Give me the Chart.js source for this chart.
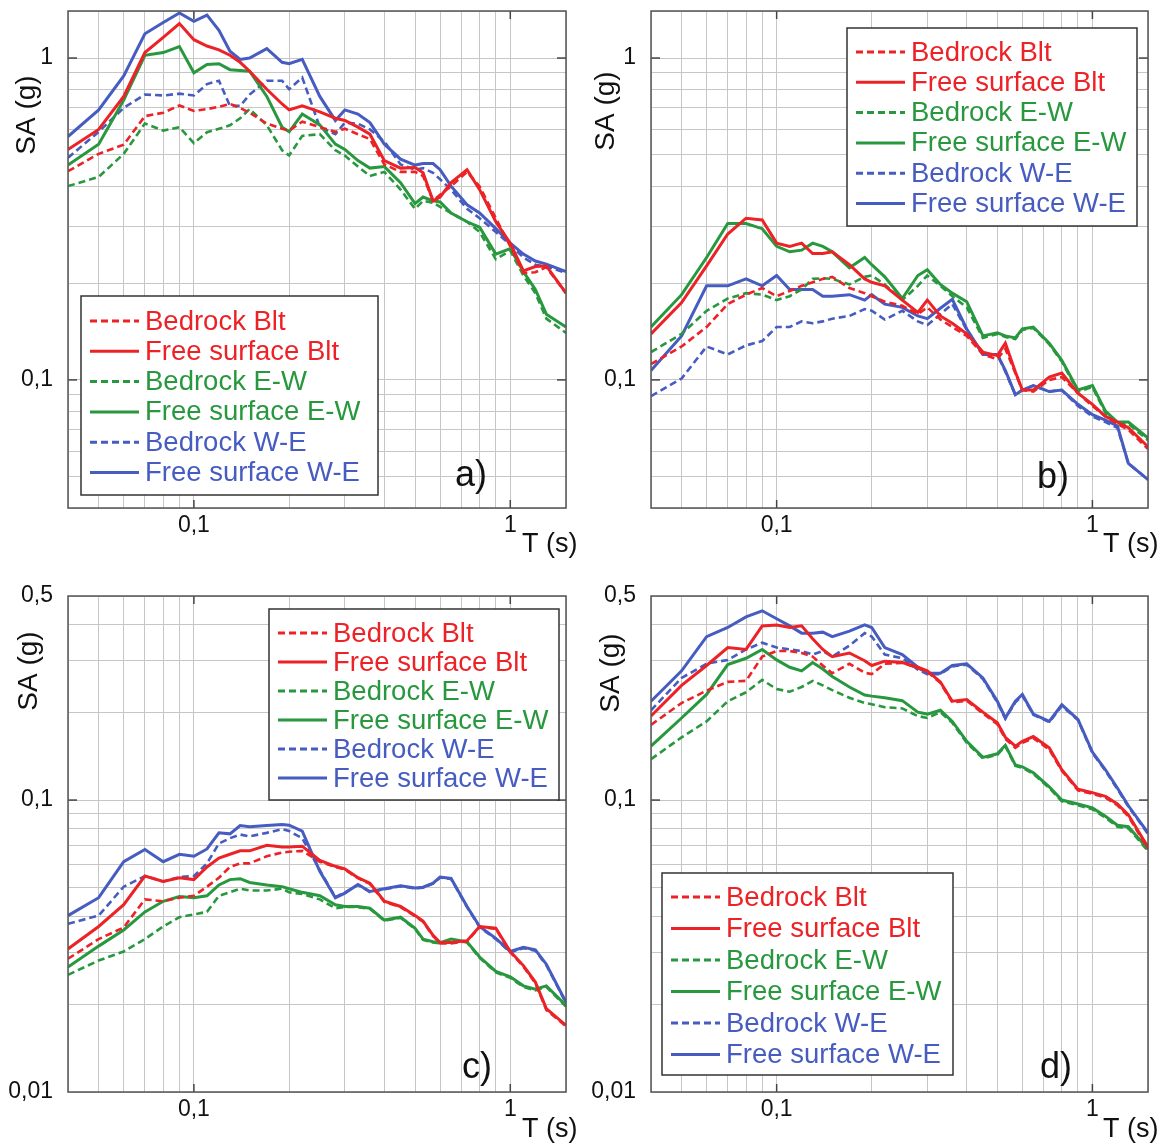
<!DOCTYPE html>
<html>
<head>
<meta charset="utf-8">
<script src="https://cdn.jsdelivr.net/npm/chart.js@4.4.0/dist/chart.umd.min.js"></script>
<style>
html, body { margin: 0; padding: 0; background: #fff; }
#page { position: relative; width: 1168px; height: 1144px; }
.panel { position: absolute; width: 584px; height: 572px; }
</style>
</head>
<body>
<div id="page">
  <div class="panel" style="left:0;top:0"><canvas id="chartA" width="584" height="572"></canvas></div>
  <div class="panel" style="left:584px;top:0"><canvas id="chartB" width="584" height="572"></canvas></div>
  <div class="panel" style="left:0;top:572px"><canvas id="chartC" width="584" height="572"></canvas></div>
  <div class="panel" style="left:584px;top:572px"><canvas id="chartD" width="584" height="572"></canvas></div>
</div>
<script>
// periods T (s), shared by all curves
const periods = [0.04, 0.05, 0.06, 0.07, 0.08, 0.09, 0.1, 0.11, 0.12, 0.13, 0.14, 0.15, 0.17, 0.19, 0.2, 0.22, 0.25, 0.28, 0.3, 0.33, 0.36, 0.4, 0.45, 0.5, 0.53, 0.57, 0.6, 0.65, 0.73, 0.8, 0.9, 1, 1.1, 1.2, 1.3, 1.5];

const seriesLabels = ['Bedrock Blt', 'Free surface Blt', 'Bedrock E-W', 'Free surface E-W', 'Bedrock W-E', 'Free surface W-E'];
const panelLetters = ['a)', 'b)', 'c)', 'd)'];
const xTickLabels = [0.1, 1];
const yTickLabelsAB = [0.1, 1];
const yTickLabelsCD = [0.01, 0.1, 0.5];

// panel a
const aBedrockBlt = [0.445, 0.504, 0.538, 0.66, 0.676, 0.712, 0.685, 0.694, 0.706, 0.72, 0.70, 0.676, 0.626, 0.603, 0.595, 0.634, 0.61, 0.59, 0.603, 0.58, 0.56, 0.467, 0.443, 0.443, 0.43, 0.36, 0.376, 0.40, 0.443, 0.399, 0.318, 0.26, 0.215, 0.216, 0.224, 0.186];
const aFreeBlt = [0.52, 0.60, 0.76, 1.04, 1.16, 1.28, 1.14, 1.09, 1.06, 1.02, 0.97, 0.91, 0.80, 0.72, 0.69, 0.71, 0.68, 0.65, 0.64, 0.61, 0.58, 0.48, 0.455, 0.457, 0.44, 0.36, 0.37, 0.41, 0.45, 0.39, 0.31, 0.266, 0.218, 0.225, 0.226, 0.186];
const aBedrockEW = [0.40, 0.427, 0.504, 0.626, 0.595, 0.61, 0.544, 0.588, 0.603, 0.618, 0.65, 0.694, 0.618, 0.517, 0.498, 0.573, 0.58, 0.517, 0.498, 0.46, 0.43, 0.443, 0.39, 0.34, 0.36, 0.355, 0.345, 0.33, 0.31, 0.288, 0.237, 0.252, 0.211, 0.186, 0.155, 0.14];
const aFreeEW = [0.465, 0.54, 0.74, 1.02, 1.04, 1.085, 0.90, 0.955, 0.96, 0.92, 0.915, 0.91, 0.76, 0.61, 0.59, 0.67, 0.62, 0.54, 0.52, 0.48, 0.455, 0.46, 0.41, 0.353, 0.37, 0.36, 0.357, 0.33, 0.31, 0.298, 0.246, 0.256, 0.217, 0.191, 0.16, 0.146];
const aBedrockWE = [0.49, 0.59, 0.70, 0.77, 0.765, 0.775, 0.765, 0.83, 0.85, 0.71, 0.71, 0.77, 0.85, 0.85, 0.80, 0.87, 0.61, 0.58, 0.63, 0.625, 0.60, 0.55, 0.467, 0.45, 0.455, 0.44, 0.42, 0.39, 0.34, 0.318, 0.288, 0.263, 0.24, 0.228, 0.225, 0.215];
const aFreeWE = [0.57, 0.69, 0.88, 1.19, 1.29, 1.38, 1.30, 1.36, 1.22, 1.05, 0.99, 1.00, 1.07, 0.97, 0.96, 0.99, 0.76, 0.64, 0.69, 0.67, 0.63, 0.54, 0.485, 0.465, 0.47, 0.47, 0.45, 0.40, 0.35, 0.33, 0.295, 0.266, 0.246, 0.234, 0.229, 0.217];

// panel b
const bBedrockBlt = [0.112, 0.127, 0.146, 0.172, 0.184, 0.193, 0.182, 0.189, 0.196, 0.201, 0.206, 0.209, 0.193, 0.186, 0.182, 0.175, 0.17, 0.16, 0.168, 0.154, 0.146, 0.137, 0.12, 0.116, 0.125, 0.105, 0.093, 0.092, 0.1, 0.102, 0.091, 0.083, 0.077, 0.073, 0.07, 0.061];
const bFreeBlt = [0.139, 0.174, 0.226, 0.284, 0.318, 0.314, 0.266, 0.26, 0.266, 0.247, 0.247, 0.25, 0.228, 0.206, 0.201, 0.196, 0.177, 0.162, 0.177, 0.158, 0.15, 0.139, 0.122, 0.119, 0.13, 0.106, 0.093, 0.093, 0.102, 0.105, 0.091, 0.084, 0.077, 0.074, 0.071, 0.062];
const bBedrockEW = [0.122, 0.139, 0.164, 0.179, 0.186, 0.184, 0.177, 0.182, 0.191, 0.206, 0.207, 0.206, 0.198, 0.209, 0.211, 0.198, 0.177, 0.196, 0.211, 0.196, 0.182, 0.168, 0.135, 0.139, 0.136, 0.134, 0.143, 0.145, 0.129, 0.114, 0.092, 0.095, 0.079, 0.073, 0.073, 0.065];
const bFreeEW = [0.146, 0.184, 0.24, 0.306, 0.306, 0.295, 0.26, 0.25, 0.253, 0.266, 0.26, 0.25, 0.223, 0.24, 0.228, 0.209, 0.179, 0.211, 0.22, 0.198, 0.186, 0.175, 0.137, 0.14, 0.137, 0.135, 0.144, 0.146, 0.13, 0.115, 0.093, 0.096, 0.08, 0.074, 0.074, 0.066];
const bBedrockWE = [0.089, 0.101, 0.127, 0.12, 0.128, 0.132, 0.146, 0.146, 0.152, 0.15, 0.152, 0.155, 0.158, 0.166, 0.164, 0.154, 0.164, 0.152, 0.148, 0.16, 0.172, 0.143, 0.12, 0.12, 0.106, 0.09, 0.093, 0.096, 0.092, 0.093, 0.083, 0.077, 0.074, 0.071, 0.055, 0.049];
const bFreeWE = [0.107, 0.137, 0.196, 0.196, 0.206, 0.196, 0.211, 0.191, 0.191, 0.191, 0.182, 0.182, 0.184, 0.177, 0.184, 0.172, 0.168, 0.158, 0.155, 0.167, 0.178, 0.144, 0.12, 0.12, 0.107, 0.09, 0.093, 0.096, 0.092, 0.093, 0.084, 0.078, 0.075, 0.072, 0.055, 0.049];

// panel c
const cBedrockBlt = [0.0286, 0.0334, 0.0366, 0.0457, 0.045, 0.0463, 0.047, 0.0505, 0.0542, 0.059, 0.0607, 0.0607, 0.0642, 0.0661, 0.0665, 0.067, 0.0615, 0.059, 0.0578, 0.054, 0.0516, 0.0448, 0.043, 0.04, 0.0383, 0.0342, 0.0323, 0.0323, 0.0328, 0.0367, 0.0362, 0.0301, 0.0269, 0.0236, 0.0191, 0.0168];
const cFreeBlt = [0.0309, 0.0369, 0.0438, 0.0549, 0.0526, 0.0542, 0.0534, 0.059, 0.0633, 0.0652, 0.067, 0.067, 0.07, 0.069, 0.069, 0.0695, 0.0621, 0.0593, 0.0581, 0.0542, 0.0519, 0.045, 0.0432, 0.0402, 0.0385, 0.0344, 0.0325, 0.0325, 0.033, 0.0369, 0.0364, 0.0303, 0.0271, 0.0238, 0.0193, 0.0169];
const cBedrockEW = [0.0252, 0.0282, 0.0303, 0.0334, 0.0369, 0.0397, 0.0406, 0.0414, 0.047, 0.0483, 0.0497, 0.049, 0.049, 0.0497, 0.0483, 0.0477, 0.0457, 0.0426, 0.043, 0.043, 0.0424, 0.0386, 0.0395, 0.0362, 0.0332, 0.0325, 0.0323, 0.0332, 0.0325, 0.0288, 0.0257, 0.0246, 0.0229, 0.0223, 0.0229, 0.0196];
const cFreeEW = [0.0268, 0.0316, 0.0359, 0.0414, 0.045, 0.0467, 0.0463, 0.047, 0.0512, 0.0534, 0.0538, 0.0522, 0.0512, 0.0505, 0.0497, 0.0483, 0.047, 0.0438, 0.0432, 0.0432, 0.0426, 0.0388, 0.0397, 0.0364, 0.0334, 0.0327, 0.0325, 0.0334, 0.0327, 0.029, 0.0259, 0.0248, 0.0231, 0.0225, 0.0231, 0.0198];
const cBedrockWE = [0.0377, 0.0402, 0.0505, 0.0549, 0.0526, 0.0545, 0.0549, 0.0607, 0.071, 0.074, 0.0762, 0.0751, 0.0772, 0.0795, 0.0783, 0.074, 0.0575, 0.0465, 0.0482, 0.0512, 0.0484, 0.0495, 0.0507, 0.0498, 0.0501, 0.0517, 0.0543, 0.0537, 0.043, 0.0367, 0.0334, 0.0301, 0.0311, 0.0305, 0.0272, 0.0202];
const cFreeWE = [0.0402, 0.0463, 0.0615, 0.0677, 0.0615, 0.0652, 0.0642, 0.068, 0.0772, 0.0766, 0.0818, 0.081, 0.0818, 0.0824, 0.082, 0.0783, 0.057, 0.0463, 0.048, 0.0514, 0.0486, 0.0497, 0.0509, 0.05, 0.0503, 0.0519, 0.0545, 0.0539, 0.0432, 0.0369, 0.0336, 0.0303, 0.0313, 0.0307, 0.0274, 0.0203];

// panel d
const dBedrockBlt = [0.181, 0.215, 0.237, 0.254, 0.256, 0.31, 0.324, 0.324, 0.319, 0.31, 0.289, 0.272, 0.293, 0.273, 0.27, 0.293, 0.295, 0.283, 0.275, 0.252, 0.216, 0.219, 0.198, 0.182, 0.162, 0.151, 0.157, 0.163, 0.149, 0.126, 0.108, 0.105, 0.102, 0.096, 0.088, 0.068];
const dFreeBlt = [0.194, 0.247, 0.289, 0.333, 0.328, 0.395, 0.398, 0.39, 0.395, 0.357, 0.328, 0.31, 0.319, 0.3, 0.289, 0.299, 0.296, 0.285, 0.277, 0.254, 0.218, 0.221, 0.2, 0.184, 0.164, 0.153, 0.159, 0.165, 0.151, 0.127, 0.109, 0.106, 0.103, 0.097, 0.089, 0.069];
const dBedrockEW = [0.138, 0.164, 0.186, 0.218, 0.234, 0.258, 0.24, 0.235, 0.244, 0.256, 0.247, 0.238, 0.224, 0.215, 0.213, 0.208, 0.206, 0.194, 0.191, 0.2, 0.184, 0.157, 0.139, 0.143, 0.153, 0.131, 0.129, 0.123, 0.11, 0.099, 0.096, 0.093, 0.087, 0.081, 0.08, 0.067];
const dFreeEW = [0.153, 0.191, 0.23, 0.291, 0.306, 0.328, 0.302, 0.285, 0.277, 0.296, 0.281, 0.265, 0.244, 0.229, 0.227, 0.224, 0.219, 0.2, 0.197, 0.203, 0.186, 0.159, 0.14, 0.144, 0.154, 0.132, 0.13, 0.124, 0.111, 0.1, 0.097, 0.094, 0.088, 0.082, 0.081, 0.068];
const dBedrockWE = [0.203, 0.262, 0.293, 0.302, 0.328, 0.346, 0.333, 0.328, 0.324, 0.315, 0.324, 0.31, 0.338, 0.373, 0.363, 0.315, 0.306, 0.28, 0.27, 0.27, 0.287, 0.291, 0.26, 0.216, 0.19, 0.216, 0.228, 0.196, 0.185, 0.21, 0.188, 0.145, 0.126, 0.109, 0.095, 0.0765];
const dFreeWE = [0.218, 0.277, 0.363, 0.39, 0.424, 0.445, 0.418, 0.395, 0.373, 0.373, 0.376, 0.363, 0.379, 0.398, 0.39, 0.333, 0.315, 0.285, 0.272, 0.272, 0.289, 0.293, 0.262, 0.218, 0.191, 0.218, 0.23, 0.197, 0.186, 0.212, 0.189, 0.146, 0.127, 0.11, 0.0956, 0.0772];

// styles
const FONT = '"Liberation Sans", Arial, sans-serif';
const RED = 'rgb(236,34,38)', GREEN = 'rgb(40,152,62)', BLUE = 'rgb(70,92,192)';
const lineColors = [RED, RED, GREEN, GREEN, BLUE, BLUE];
const isDashed = [true, false, true, false, true, false];

function logGrid(min, max) {
  const out = [min];
  for (let e = -3; e <= 1; e++) {
    for (let m = 1; m <= 9; m++) {
      const v = Number((m * Math.pow(10, e)).toPrecision(3));
      if (v > min && v < max) out.push(v);
    }
  }
  out.push(max);
  return out;
}
const commaLabel = v => String(v).replace('.', ',');

// axes must not reserve label overflow space: the plot box is placed by hand
function noPad(s) {
  s.paddingTop = 0; s.paddingBottom = 0; s.paddingLeft = 0; s.paddingRight = 0;
}

const decor = {
  id: 'decor',
  afterDraw(chart, args, o) {
    const ctx = chart.ctx, a = chart.chartArea;
    const xs = chart.scales.x, ys = chart.scales.y;
    ctx.save();
    const seg = (x1, y1, x2, y2) => { ctx.beginPath(); ctx.moveTo(x1, y1); ctx.lineTo(x2, y2); ctx.stroke(); };
    // inward major ticks
    ctx.strokeStyle = '#444';
    ctx.lineWidth = 1.5;
    xTickLabels.forEach(v => {
      const px = xs.getPixelForValue(v);
      seg(px, a.bottom, px, a.bottom - 8);
      seg(px, a.top, px, a.top + 8);
    });
    o.yMajor.forEach(v => {
      const py = ys.getPixelForValue(v);
      if (py > a.top + 2 && py < a.bottom - 2) {
        seg(a.left, py, a.left + 9, py);
        seg(a.right, py, a.right - 9, py);
      }
    });
    // frame
    ctx.strokeStyle = '#555';
    ctx.lineWidth = 1.5;
    ctx.strokeRect(a.left, a.top, a.right - a.left, a.bottom - a.top);
    // axis titles
    ctx.fillStyle = '#111';
    ctx.font = '28px ' + FONT;
    ctx.textAlign = 'center';
    ctx.textBaseline = 'middle';
    ctx.save();
    ctx.translate(o.yTitle.x, o.yTitle.y);
    ctx.rotate(-Math.PI / 2);
    ctx.fillText('SA (g)', 0, 0);
    ctx.restore();
    ctx.font = '27px ' + FONT;
    ctx.textAlign = 'left';
    ctx.textBaseline = 'alphabetic';
    ctx.fillText('T (s)', o.xTitle.x, o.xTitle.y);
    // panel letter
    ctx.font = '36px ' + FONT;
    ctx.fillText(o.letter, o.letterPos.x, o.letterPos.y);
    // legend box
    const L = o.legend;
    ctx.fillStyle = '#fff';
    ctx.fillRect(L.x, L.y, L.w, L.h);
    ctx.strokeStyle = '#333';
    ctx.lineWidth = 1.5;
    ctx.strokeRect(L.x, L.y, L.w, L.h);
    ctx.font = '27.5px ' + FONT;
    ctx.textBaseline = 'middle';
    chart.data.datasets.forEach((ds, i) => {
      const y = L.row0 + i * L.step;
      ctx.strokeStyle = ds.borderColor;
      ctx.lineWidth = 3;
      ctx.setLineDash(ds.borderDash);
      seg(L.x + 9, y, L.x + 58, y);
      ctx.setLineDash([]);
      ctx.fillStyle = ds.borderColor;
      ctx.fillText(ds.label, L.x + 64, y + 1);
    });
    ctx.restore();
  }
};

const panels = [
  { id: 'chartA', series: [aBedrockBlt, aFreeBlt, aBedrockEW, aFreeEW, aBedrockWE, aFreeWE],
    yMin: 0.04, yMax: 1.4, yMajor: yTickLabelsAB,
    area: { left: 68, top: 11, right: 566, bottom: 508 },
    legend: { x: 81, y: 296, w: 297, h: 199, row0: 321, step: 30.3 },
    letterPos: { x: 455, y: 486 }, yTitle: { x: 27, y: 115 }, xTitle: { x: 522, y: 552 } },
  { id: 'chartB', series: [bBedrockBlt, bFreeBlt, bBedrockEW, bFreeEW, bBedrockWE, bFreeWE],
    yMin: 0.04, yMax: 1.4, yMajor: yTickLabelsAB,
    area: { left: 67, top: 11, right: 564, bottom: 508 },
    legend: { x: 263, y: 28, w: 290, h: 198, row0: 52, step: 30.3 },
    letterPos: { x: 453, y: 488 }, yTitle: { x: 22, y: 111 }, xTitle: { x: 519, y: 552 } },
  { id: 'chartC', series: [cBedrockBlt, cFreeBlt, cBedrockEW, cFreeEW, cBedrockWE, cFreeWE],
    yMin: 0.01, yMax: 0.5, yMajor: yTickLabelsCD,
    area: { left: 68, top: 24, right: 566, bottom: 520 },
    legend: { x: 269, y: 37, w: 290, h: 191, row0: 61, step: 29 },
    letterPos: { x: 462, y: 506 }, yTitle: { x: 29, y: 99 }, xTitle: { x: 522, y: 565 } },
  { id: 'chartD', series: [dBedrockBlt, dFreeBlt, dBedrockEW, dFreeEW, dBedrockWE, dFreeWE],
    yMin: 0.01, yMax: 0.5, yMajor: yTickLabelsCD,
    area: { left: 67, top: 24, right: 564, bottom: 520 },
    legend: { x: 78, y: 301, w: 291, h: 202, row0: 325, step: 31.5 },
    letterPos: { x: 456, y: 506 }, yTitle: { x: 27, y: 101 }, xTitle: { x: 519, y: 565 } }
];

panels.forEach((p, k) => {
  const xGrid = logGrid(0.04, 1.5);
  const yGrid = logGrid(p.yMin, p.yMax);
  new Chart(document.getElementById(p.id), {
    type: 'line',
    data: {
      datasets: p.series.map((vals, i) => ({
        label: seriesLabels[i],
        data: vals.map((v, j) => ({ x: periods[j], y: v })),
        borderColor: lineColors[i],
        borderWidth: isDashed[i] ? 2.6 : 3,
        borderDash: isDashed[i] ? [7, 4] : [],
        pointRadius: 0,
        tension: 0,
        fill: false
      }))
    },
    options: {
      responsive: false,
      animation: false,
      events: [],
      layout: { padding: { left: 0, top: p.area.top, right: 584 - p.area.right, bottom: 0 } },
      scales: {
        x: {
          type: 'logarithmic', min: 0.04, max: 1.5,
          afterBuildTicks: s => { s.ticks = xGrid.map(v => ({ value: v })); },
          afterFit: s => { s.height = 572 - p.area.bottom; noPad(s); },
          grid: { color: '#c6c6c6', lineWidth: 1, drawTicks: false },
          border: { display: false },
          ticks: {
            autoSkip: false, maxRotation: 0, minRotation: 0, padding: 4,
            color: '#111', font: { family: FONT, size: 23 },
            callback: v => xTickLabels.includes(v) ? commaLabel(v) : ''
          }
        },
        y: {
          type: 'logarithmic', min: p.yMin, max: p.yMax,
          afterBuildTicks: s => { s.ticks = yGrid.map(v => ({ value: v })); },
          afterFit: s => { s.width = p.area.left; noPad(s); },
          grid: { color: '#c6c6c6', lineWidth: 1, drawTicks: false },
          border: { display: false },
          ticks: {
            autoSkip: false, padding: 15,
            color: '#111', font: { family: FONT, size: 23 },
            callback: v => p.yMajor.includes(v) ? commaLabel(v) : ''
          }
        }
      },
      plugins: {
        legend: { display: false },
        tooltip: { enabled: false },
        decor: {
          yMajor: p.yMajor, legend: p.legend, letter: panelLetters[k],
          letterPos: p.letterPos, yTitle: p.yTitle, xTitle: p.xTitle
        }
      }
    },
    plugins: [decor]
  });
});
</script>
</body>
</html>
